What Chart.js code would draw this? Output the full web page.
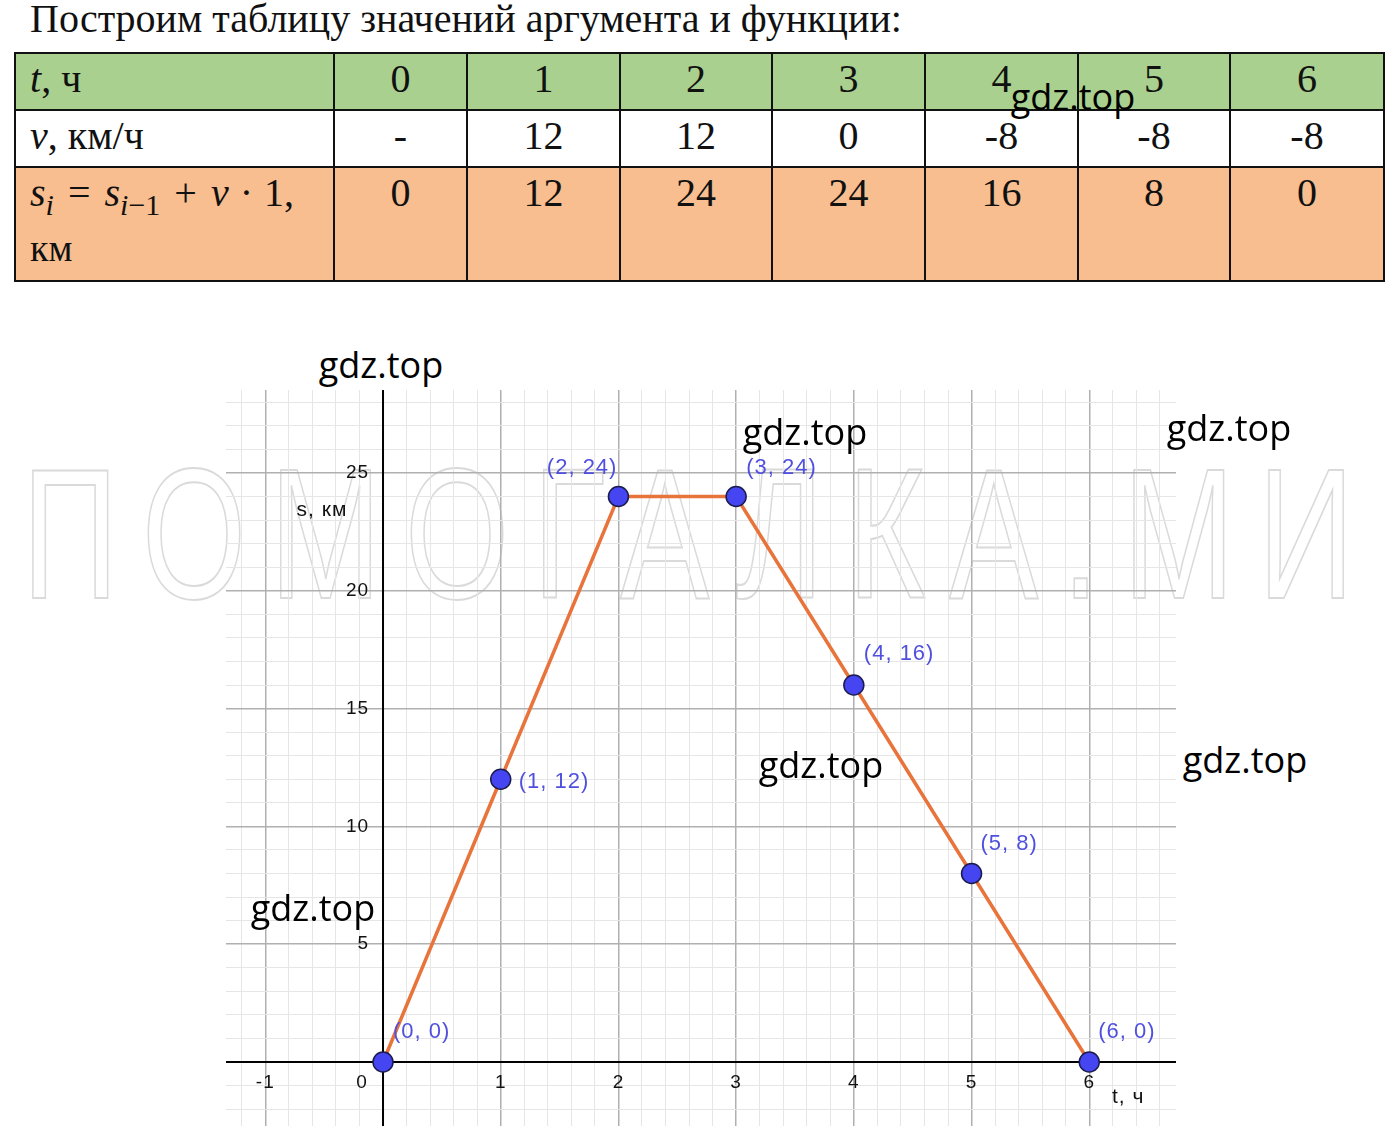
<!DOCTYPE html>
<html lang="ru">
<head>
<meta charset="utf-8">
<title>Путь s(t)</title>
<script src="https://cdn.jsdelivr.net/npm/chart.js@4.4.1/dist/chart.umd.min.js"></script>
<style>
  html, body { margin: 0; padding: 0; background: #fff; }
  body { width: 1400px; height: 1144px; position: relative; overflow: hidden; font-family: "Liberation Serif", "Times New Roman", serif; color: #111; }
  #title { position: absolute; left: 30px; top: -1px; font-size: 40px; line-height: 40px; white-space: nowrap; }
  #tbl { position: absolute; left: 14px; top: 52px; width: 1369px; border-collapse: collapse; table-layout: fixed; font-size: 40px; }
  #tbl td { border: 2px solid #111; padding: 0; vertical-align: top; text-align: center; line-height: 50px; white-space: nowrap; }
  #tbl td.h { text-align: left; padding-left: 14px; }
  #tbl tr.r1 { background: #a9d08e; height: 57px; }
  #tbl tr.r2 { background: #fff; height: 57px; }
  #tbl tr.r3 { background: #f8be8f; height: 114px; }
  #tbl sub { font-size: 0.75em; line-height: 0; vertical-align: -0.3em; }
  #tbl .op { margin: 0 14px; }
  #tbl .dot { margin: 0 11px; }
  #tbl .km { line-height: 40px; margin-top: 10px; font-size: 38px; }
  #big { position: absolute; left: 22px; top: 441px; font-family: "Liberation Sans", Arial, sans-serif; font-size: 186px; line-height: 186px;
         color: transparent; -webkit-text-stroke: 2px #dadada; white-space: nowrap; transform-origin: 0 0; z-index: 1; }
  #chartBox { position: absolute; left: 226px; top: 390px; width: 950px; height: 736px; z-index: 2; }
  .wm { position: absolute; font-family: "Open Sans", sans-serif; font-size: 36px; line-height: 1; color: #000; transform: translate(-50%, -50%); white-space: nowrap; z-index: 5; }
</style>
</head>
<body>
<div id="title">Построим таблицу значений аргумента и функции:</div>
<table id="tbl"></table>
<div id="big">ПОМОГАЛКА.МИ</div>
<div id="chartBox"><canvas id="chart"></canvas></div>

<div class="wm" style="left:1073px; top:97px;">gdz.top</div>
<div class="wm" style="left:381px; top:365px;">gdz.top</div>
<div class="wm" style="left:805px; top:432px;">gdz.top</div>
<div class="wm" style="left:1229px; top:428px;">gdz.top</div>
<div class="wm" style="left:821px; top:765px;">gdz.top</div>
<div class="wm" style="left:1245px; top:760px;">gdz.top</div>
<div class="wm" style="left:313px; top:908px;">gdz.top</div>

<script>
const tValues = [0, 1, 2, 3, 4, 5, 6];
const vValues = ["-", 12, 12, 0, -8, -8, -8];
const sValues = [0, 12, 24, 24, 16, 8, 0];
const xTickLabels = [-1, 0, 1, 2, 3, 4, 5, 6];
const yTickLabels = [5, 10, 15, 20, 25];

const colWidths = [319, 133, 153, 152, 153, 153, 152, 154];

// table
const tbl = document.getElementById("tbl");
const colgroup = document.createElement("colgroup");
colWidths.forEach((w) => {
  const col = document.createElement("col");
  col.style.width = w + "px";
  colgroup.appendChild(col);
});
tbl.appendChild(colgroup);

function addRow(cls, head, values) {
  const tr = document.createElement("tr");
  tr.className = cls;
  const th = document.createElement("td");
  th.className = "h";
  th.innerHTML = head;
  tr.appendChild(th);
  values.forEach((v) => {
    const td = document.createElement("td");
    td.textContent = String(v);
    tr.appendChild(td);
  });
  tbl.appendChild(tr);
}

addRow("r1", "<i>t</i>, ч", tValues);
addRow("r2", "<i>v</i>, км/ч", vValues);
addRow("r3", "<i>s</i><sub><i>i</i></sub><span class=\"op\">=</span><i>s</i><sub><i>i</i>−1</sub><span class=\"op\">+</span><i>v</i><span class=\"dot\">·</span>1,<div class=\"km\">км</div>", sValues);

// big outlined watermark, stretched to its width in the picture
const big = document.getElementById("big");
const natural = big.getBoundingClientRect().width;
const squeeze = 0.72;
big.style.letterSpacing = ((1356 / squeeze - natural) / 12) + "px";
big.style.transform = `scaleX(${squeeze})`;

// chart
const isInt = (v) => Math.abs(v - Math.round(v)) < 1e-6;

const labelOffsets = [
  { dx: 10, dy: -30, align: "left" },
  { dx: 18, dy: 3, align: "left" },
  { dx: -1, dy: -29, align: "right" },
  { dx: 10, dy: -29, align: "left" },
  { dx: 10, dy: -31, align: "left" },
  { dx: 9, dy: -30, align: "left" },
  { dx: 9, dy: -30, align: "left" },
];

const axesPlugin = {
  id: "axes",
  beforeDatasetsDraw(chart) {
    const { ctx, chartArea: a, scales: { x, y } } = chart;
    const x0 = x.getPixelForValue(0);
    const y0 = y.getPixelForValue(0);
    ctx.save();
    ctx.strokeStyle = "#000";
    ctx.lineWidth = 2;
    ctx.beginPath();
    ctx.moveTo(a.left, y0);
    ctx.lineTo(a.right, y0);
    ctx.moveTo(x0, a.top);
    ctx.lineTo(x0, a.bottom);
    ctx.stroke();

    ctx.fillStyle = "#111";
    ctx.font = "19px 'Liberation Sans', Arial, sans-serif";
    ctx.letterSpacing = "1px";
    ctx.textAlign = "center";
    ctx.textBaseline = "middle";
    xTickLabels.forEach((v) => {
      if (v === 0) return;
      ctx.fillText(String(v), x.getPixelForValue(v), y0 + 21);
    });
    ctx.fillText("0", x0 - 21, y0 + 21);
    ctx.textAlign = "right";
    yTickLabels.forEach((v) => {
      ctx.fillText(String(v), x0 - 14, y.getPixelForValue(v));
    });

    ctx.textAlign = "center";
    ctx.font = "21px 'Liberation Sans', Arial, sans-serif";
    ctx.fillText("s, км", x0 - 61, y.getPixelForValue(25) + 37);
    ctx.fillText("t, ч", x.getPixelForValue(6) + 39, y0 + 35);
    ctx.restore();
  },
  afterDatasetsDraw(chart) {
    const { ctx, scales: { x, y } } = chart;
    ctx.save();
    ctx.fillStyle = "#5050e0";
    ctx.font = "22px 'Liberation Sans', Arial, sans-serif";
    ctx.letterSpacing = "1px";
    ctx.textBaseline = "middle";
    tValues.forEach((t, i) => {
      const o = labelOffsets[i];
      ctx.textAlign = o.align;
      ctx.fillText(`(${t}, ${sValues[i]})`, x.getPixelForValue(t) + o.dx, y.getPixelForValue(sValues[i]) + o.dy);
    });
    ctx.restore();
  },
};

function stepTicks(from, to, step) {
  const out = [];
  for (let k = Math.round(from / step); k * step <= to + 1e-9; k++) {
    out.push({ value: Math.round(k * step * 1000) / 1000 });
  }
  return out;
}

new Chart(document.getElementById("chart"), {
  type: "scatter",
  data: {
    datasets: [
      {
        label: "s(t)",
        data: tValues.map((t, i) => ({ x: t, y: sValues[i] })),
        showLine: true,
        borderColor: "#e8743b",
        borderWidth: 3.5,
        pointRadius: 10,
        pointHoverRadius: 10,
        pointBackgroundColor: "#4545f2",
        pointBorderColor: "#1b1b4d",
        pointBorderWidth: 1.5,
        clip: false,
      },
    ],
  },
  options: {
    responsive: true,
    maintainAspectRatio: false,
    animation: false,
    layout: { padding: 0, autoPadding: false },
    plugins: { legend: { display: false }, tooltip: { enabled: false } },
    scales: {
      x: {
        type: "linear",
        min: -1.334,
        max: 6.737,
        afterBuildTicks: (scale) => { scale.ticks = stepTicks(-1.2, 6.6, 0.2); },
        ticks: { display: false, autoSkip: false },
        border: { display: false },
        grid: {
          drawTicks: false,
          color: (c) => (isInt(c.tick.value) ? "#b0b0b0" : "#e6e6e6"),
          lineWidth: (c) => (isInt(c.tick.value) ? 1.5 : 1),
        },
      },
      y: {
        type: "linear",
        min: -2.716,
        max: 28.52,
        afterBuildTicks: (scale) => { scale.ticks = stepTicks(-2, 28, 1); },
        ticks: { display: false, autoSkip: false },
        border: { display: false },
        grid: {
          drawTicks: false,
          color: (c) => (c.tick.value % 5 === 0 ? "#b0b0b0" : "#e6e6e6"),
          lineWidth: (c) => (c.tick.value % 5 === 0 ? 1.5 : 1),
        },
      },
    },
  },
  plugins: [axesPlugin],
});
</script>
</body>
</html>
